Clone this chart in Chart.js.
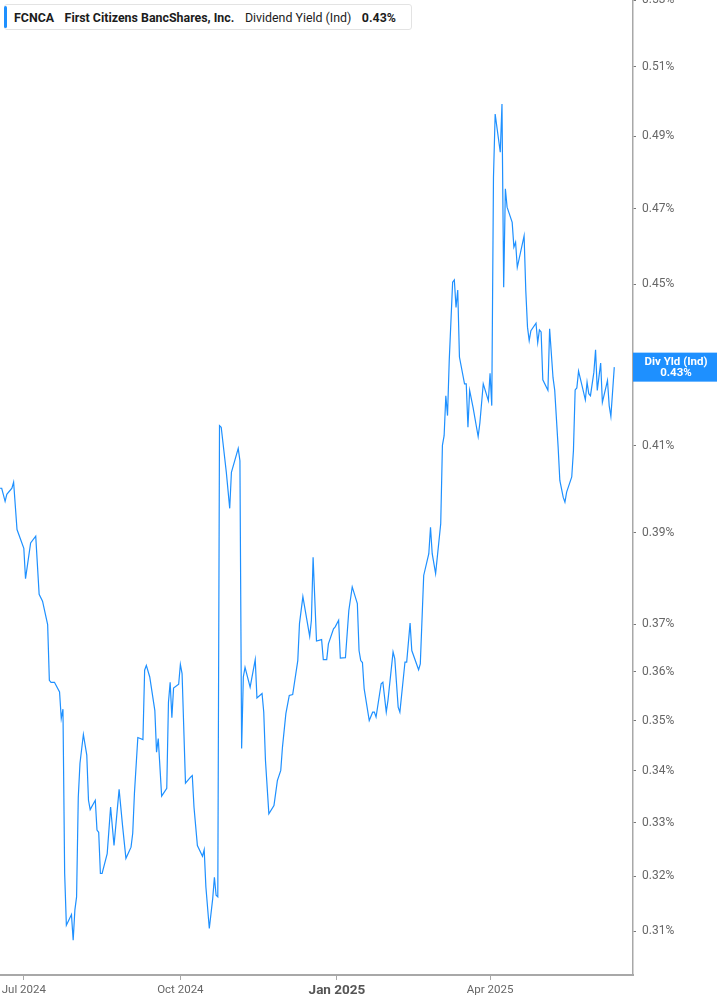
<!DOCTYPE html>
<html lang="en">
  <head>
    <meta charset="UTF-8" />
    <title>FCNCA Dividend Yield (Ind)</title>
    <script src="https://cdn.jsdelivr.net/npm/chart.js@4.4.1/dist/chart.umd.min.js"></script>
    <style>
      body { margin: 0; background: #fff; font-family: Roboto, "Noto Sans", sans-serif; }
      .wrap { position: relative; width: 717px; height: 1005px; overflow: hidden; }
      #legend {
        position: absolute; left: 4px; top: 4px; height: 26px; width: 408px;
        border: 1px solid #e3e3e3; border-radius: 3px; background: #fff;
        display: flex; align-items: center; font-size: 12.4px; color: #1c1c1c;
        box-sizing: border-box; padding-left: 9px;
      }
      #legend .bar { position: absolute; left: -1px; top: 1px; bottom: 1px; width: 3px; background: #1e90ff; border-radius: 2px; }
      #legend b, #legend span.t { margin-right: 10.5px; white-space: nowrap; }
    </style>
  </head>
  <body>
    <div class="wrap">
      <canvas id="chart" width="717" height="1005"></canvas>
      <div id="legend">
        <span class="bar"></span>
        <b>FCNCA</b>
        <b>First Citizens BancShares, Inc.</b>
        <span class="t">Dividend Yield (Ind)</span>
        <b id="lastVal"></b>
      </div>
    </div>

    <script>
      // dividend yield (%)
      const dates = [
        '2024-06-17','2024-06-18','2024-06-20','2024-06-21','2024-06-24','2024-06-25','2024-06-27',
        '2024-07-01','2024-07-02','2024-07-05','2024-07-08','2024-07-10','2024-07-12','2024-07-15',
        '2024-07-16','2024-07-17','2024-07-19','2024-07-22','2024-07-23','2024-07-24','2024-07-25',
        '2024-07-26','2024-07-29','2024-07-30','2024-07-31','2024-08-01','2024-08-02','2024-08-03',
        '2024-08-05','2024-08-07','2024-08-08','2024-08-09','2024-08-12','2024-08-13','2024-08-14',
        '2024-08-15','2024-08-16','2024-08-19','2024-08-21','2024-08-23','2024-08-26','2024-08-28',
        '2024-08-30','2024-09-02','2024-09-03','2024-09-04','2024-09-06','2024-09-09','2024-09-10',
        '2024-09-11','2024-09-13','2024-09-16','2024-09-17','2024-09-18','2024-09-20','2024-09-23',
        '2024-09-24','2024-09-25','2024-09-26','2024-09-27','2024-09-30','2024-10-01','2024-10-02',
        '2024-10-04','2024-10-07','2024-10-08','2024-10-09','2024-10-11','2024-10-14','2024-10-15',
        '2024-10-16','2024-10-18','2024-10-20','2024-10-21','2024-10-22','2024-10-23','2024-10-24',
        '2024-10-25','2024-10-28','2024-10-30','2024-10-31','2024-11-04','2024-11-05','2024-11-06',
        '2024-11-07','2024-11-08','2024-11-11','2024-11-14','2024-11-15','2024-11-18','2024-11-19',
        '2024-11-20','2024-11-22','2024-11-25','2024-11-27','2024-11-29','2024-11-30','2024-12-02',
        '2024-12-04','2024-12-06','2024-12-09','2024-12-10','2024-12-12','2024-12-16','2024-12-17',
        '2024-12-18','2024-12-20','2024-12-23','2024-12-24','2024-12-26','2024-12-27','2024-12-30',
        '2024-12-31','2025-01-02','2025-01-03','2025-01-06','2025-01-08','2025-01-10','2025-01-13',
        '2025-01-14','2025-01-15','2025-01-16','2025-01-17','2025-01-20','2025-01-22','2025-01-23',
        '2025-01-24','2025-01-27','2025-01-28','2025-01-30','2025-01-31','2025-02-03','2025-02-04',
        '2025-02-06','2025-02-07','2025-02-10','2025-02-11','2025-02-13','2025-02-14','2025-02-18',
        '2025-02-19','2025-02-21','2025-02-24','2025-02-25','2025-02-26','2025-02-28','2025-03-03',
        '2025-03-04','2025-03-05','2025-03-06','2025-03-07','2025-03-08','2025-03-10','2025-03-11',
        '2025-03-12','2025-03-13','2025-03-14','2025-03-17','2025-03-18','2025-03-19','2025-03-20',
        '2025-03-22','2025-03-25','2025-03-26','2025-03-28','2025-03-31','2025-04-01','2025-04-02',
        '2025-04-03','2025-04-04','2025-04-07','2025-04-08','2025-04-09','2025-04-10','2025-04-11',
        '2025-04-14','2025-04-15','2025-04-16','2025-04-17','2025-04-21','2025-04-22','2025-04-23',
        '2025-04-24','2025-04-25','2025-04-28','2025-04-29','2025-04-30','2025-05-01','2025-05-02',
        '2025-05-05','2025-05-06','2025-05-08','2025-05-09','2025-05-11','2025-05-12','2025-05-14',
        '2025-05-15','2025-05-16','2025-05-19','2025-05-20','2025-05-21','2025-05-22','2025-05-23',
        '2025-05-25','2025-05-27','2025-05-28','2025-05-29','2025-05-30','2025-06-01','2025-06-02',
        '2025-06-03','2025-06-05','2025-06-06','2025-06-09','2025-06-10','2025-06-11','2025-06-13'
      ];
      const yields = [
        0.4001,0.4001,0.3971,0.3987,0.4001,0.4015,0.3907,
        0.3865,0.3798,0.3877,0.3892,0.3764,0.3749,0.3699,
        0.3582,0.3578,0.3578,0.3558,0.3504,0.3523,0.3205,
        0.3111,0.3130,0.3084,0.3138,0.3162,0.3349,0.3415,
        0.3472,0.3431,0.3343,0.3325,0.3343,0.3286,0.3282,
        0.3205,0.3205,0.3242,0.3330,0.3257,0.3364,0.3295,
        0.3233,0.3254,0.3280,0.3356,0.3466,0.3462,0.3603,
        0.3613,0.3589,0.3520,0.3437,0.3464,0.3351,0.3366,
        0.3537,0.3578,0.3506,0.3566,0.3574,0.3615,0.3596,
        0.3376,0.3388,0.3391,0.3330,0.3257,0.3237,0.3249,
        0.3180,0.3105,0.3159,0.3198,0.3165,0.3162,0.4148,
        0.4144,0.4038,0.3955,0.4038,0.4094,0.4065,0.3444,
        0.3589,0.3609,0.3568,0.3625,0.3546,0.3555,0.3517,
        0.3421,0.3317,0.3333,0.3381,0.3401,0.3447,0.3514,
        0.3551,0.3553,0.3623,0.3701,0.3759,0.3674,0.3708,
        0.3845,0.3664,0.3667,0.3625,0.3625,0.3658,0.3690,
        0.3694,0.3708,0.3628,0.3629,0.3729,0.3780,0.3744,
        0.3644,0.3623,0.3619,0.3565,0.3500,0.3517,0.3517,
        0.3507,0.3575,0.3578,0.3517,0.3541,0.3641,0.3627,
        0.3527,0.3517,0.3620,0.3620,0.3702,0.3644,0.3604,
        0.3616,0.3805,0.3853,0.3912,0.3853,0.3809,0.3920,
        0.4101,0.4124,0.4220,0.4172,0.4306,0.4505,0.4511,
        0.4440,0.4485,0.4315,0.4249,0.4249,0.4144,0.4233,
        0.4192,0.4122,0.4154,0.4249,0.4208,0.4275,0.4196,
        0.4785,0.4963,0.4855,0.4992,0.4492,0.4754,0.4704,
        0.4663,0.4597,0.4610,0.4544,0.4627,0.4483,0.4390,
        0.4356,0.4381,0.4400,0.4351,0.4383,0.4378,0.4259,
        0.4233,0.4386,0.4264,0.4233,0.4097,0.4019,0.3980,
        0.3969,0.3992,0.4027,0.4089,0.4234,0.4239,0.4280,
        0.4245,0.4210,0.4253,0.4225,0.4220,0.4277,0.4333,
        0.4233,0.4300,0.4204,0.4257,0.4196,0.4170,0.4290
      ];

      const xTickDates = ['2024-07-01', '2024-10-01', '2025-01-01', '2025-04-01'];
      const xTickLabels = ['Jul 2024', 'Oct 2024', 'Jan 2025', 'Apr 2025'];
      const yTicks = [0.31, 0.32, 0.33, 0.34, 0.35, 0.36, 0.37, 0.39, 0.41, 0.45, 0.47, 0.49, 0.51, 0.53];

      const xStart = '2024-06-17', xEnd = '2025-06-24';
      const yMin = 0.3023, yMax = 0.53;
      const blue = '#1e90ff';
      const font = 'Roboto';

      // days since 2024-07-01
      const dayOf = s => {
        const [y, m, d] = s.split('-').map(Number);
        return (Date.UTC(y, m - 1, d) - Date.UTC(2024, 6, 1)) / 86400000;
      };
      const last = yields[yields.length - 1];
      document.getElementById('lastVal').textContent = last.toFixed(2) + '%';

      const lastValueTag = {
        id: 'lastValueTag',
        afterDraw(chart) {
          const { ctx, chartArea } = chart;
          const y = chart.scales.y.getPixelForValue(last);
          const x0 = chartArea.right, w = chart.width - x0, h = 29;
          ctx.save();
          ctx.fillStyle = blue;
          ctx.fillRect(x0, y - h / 2, w, h);
          ctx.fillStyle = '#fff';
          ctx.font = 'bold 11.5px ' + font;
          ctx.textAlign = 'center';
          ctx.textBaseline = 'middle';
          ctx.fillText('Div Yld (Ind)', x0 + w / 2 + 1, y - 5.5);
          ctx.fillText(last.toFixed(2) + '%', x0 + w / 2 + 1, y + 6);
          ctx.restore();
        }
      };

      new Chart(document.getElementById('chart'), {
        type: 'line',
        data: {
          datasets: [{
            label: 'Dividend Yield (Ind)',
            data: dates.map((d, i) => ({ x: dayOf(d), y: yields[i] })),
            borderColor: blue,
            borderWidth: 1.2,
            pointRadius: 0,
            tension: 0,
            fill: false
          }]
        },
        options: {
          responsive: false,
          animation: false,
          layout: { padding: 0 },
          plugins: { legend: { display: false }, tooltip: { enabled: false } },
          scales: {
            x: {
              type: 'linear',
              min: dayOf(xStart),
              max: dayOf(xEnd),
              afterBuildTicks: s => { s.ticks = xTickDates.map(d => ({ value: dayOf(d) })); },
              afterFit: s => { s.height = 30; s.paddingLeft = 0; s.paddingRight = 0; },
              grid: { drawOnChartArea: false, tickLength: 5, color: '#a8a8a8' },
              border: { color: '#a8a8a8', width: 2 },
              ticks: {
                autoSkip: false,
                maxRotation: 0,
                padding: 3,
                color: c => (c.tick && c.tick.label === 'Jan 2025') ? '#555' : '#666',
                font: c => (c.tick && c.tick.label === 'Jan 2025')
                  ? { family: font, size: 13.5, weight: 'bold' }
                  : { family: font, size: 11.5 },
                callback: (v, i) => xTickLabels[i]
              }
            },
            y: {
              type: 'logarithmic',
              position: 'right',
              min: yMin,
              max: yMax,
              afterBuildTicks: s => { s.ticks = yTicks.map(v => ({ value: v })); },
              afterFit: s => { s.width = 84; s.paddingTop = 0; s.paddingBottom = 0; },
              grid: { drawOnChartArea: false, tickLength: 3, color: '#777' },
              border: { color: '#a8a8a8', width: 1.5 },
              ticks: {
                padding: 6,
                color: '#666',
                font: { family: font, size: 12 },
                callback: v => Number(v).toFixed(2) + '%'
              }
            }
          }
        },
        plugins: [lastValueTag]
      });
    </script>
  </body>
</html>
